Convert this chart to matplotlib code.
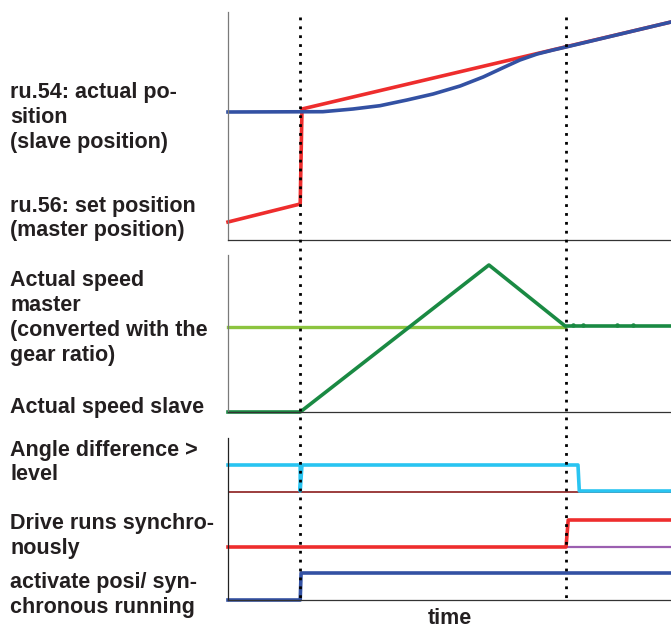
import matplotlib
matplotlib.use('Agg')
import matplotlib.pyplot as plt
import matplotlib.transforms as mtrans
from matplotlib.lines import Line2D

plt.rcParams['font.family'] = ['Liberation Sans', 'DejaVu Sans']

# time axis (arbitrary units, 0..100)
t_start = 16.3      # activate posi / synchronous running
t_sync = 76.3       # drive runs synchronously
t_end = 100.0

# panel 1: positions
set_pos_t = [0, 16.3, 16.7, 100]
set_pos_y = [18, 36, 131, 218]
act_pos_t = [0, 21.4, 28.2, 34.3, 40.4, 46.3, 52.4, 57.6, 62.1, 65.9, 69.8, 73.4, 76.3, 100]
act_pos_y = [128, 128.3, 131, 134.3, 140, 146, 154, 163, 172.3, 180, 186, 190, 193, 218]

# panel 2: speeds
speed_master_t = [0, 76.1]
speed_master_y = [85, 85]
speed_slave_t = [0, 16.3, 58.9, 76.1, 100]
speed_slave_y = [0, 0, 147, 86, 86]
ripple_t = [77.9, 80.1, 87.8, 91.4]
ripple_y = [87.5, 87.5, 87.5, 87.5]

# panel 3: digital signals
angle_t = [0, 16.3, 16.3, 16.7, 79.0, 79.3, 100]
angle_y = [135, 135, 109, 135, 135, 109, 109]
angle_base = 108
sync_t = [0, 76.3, 76.8, 100]
sync_y = [53, 53, 80, 80]
sync_base = 53
activate_t = [0, 16.3, 16.5, 100]
activate_y = [0, 0, 27, 27]

labels = [
    ("ru.54: actual po-\nsition\n(slave position)", 117.5),
    ("ru.56: set position\n(master position)", 218.5),
    ("Actual speed\nmaster\n(converted with the\ngear ratio)", 318),
    ("Actual speed slave", 407.5),
    ("Angle difference >\nlevel", 462.5),
    ("Drive runs synchro-\nnously", 536),
    ("activate posi/ syn-\nchronous running", 595),
]

W, H = 671, 628
fig = plt.figure(figsize=(W / 100, H / 100), dpi=100)

def panel(top, bottom):
    return fig.add_axes([228 / W, (H - bottom) / H, 443 / W, (bottom - top) / H])

ax1 = panel(12, 240)
ax2 = panel(255, 412)
ax3 = panel(438, 600)

for ax, ytop, spc in [(ax1, 228, '#7a7a7a'), (ax2, 157, '#7a7a7a'), (ax3, 162, '#222222')]:
    ax.set_xlim(0, t_end)
    ax.set_ylim(0, ytop)
    ax.set_xticks([])
    ax.set_yticks([])
    for s in ['top', 'right']:
        ax.spines[s].set_visible(False)
    ax.spines['left'].set_color(spc)
    ax.spines['bottom'].set_color('#333333')
    ax.spines['left'].set_linewidth(0.9)
    ax.spines['bottom'].set_linewidth(0.9)
    ax.patch.set_alpha(0)

ax1.plot(set_pos_t, set_pos_y, color='#ee2d2d', lw=2.6, solid_joinstyle='miter', clip_on=False)
ax1.plot(act_pos_t, act_pos_y, color='#3351a3', lw=2.6, clip_on=False)

ax2.plot(speed_master_t, speed_master_y, color='#8cc43f', lw=2.4, clip_on=False)
ax2.plot(speed_slave_t, speed_slave_y, color='#1a8a43', lw=2.6, clip_on=False)
ax2.plot(ripple_t, ripple_y, 'o', color='#1a8a43', ms=2.2, clip_on=False)

ax3.axhline(angle_base, color='#8b1c1c', lw=1.2)
ax3.plot([t_sync, t_end], [sync_base, sync_base], color='#9b5fb0', lw=1.6)
ax3.plot(angle_t, angle_y, color='#29c4f1', lw=2.6, clip_on=False)
ax3.plot(sync_t, sync_y, color='#ee2d2d', lw=2.6, clip_on=False)
ax3.plot(activate_t, activate_y, color='#3351a3', lw=2.6, clip_on=False)

# dotted event markers spanning all panels
tr = mtrans.blended_transform_factory(ax3.transData, fig.transFigure)
for t in [t_start, t_sync]:
    fig.add_artist(Line2D([t, t], [1 - 17 / H, 1 - 600 / H], transform=tr,
                          color='black', lw=2, linestyle=(0, (1, 2.2))))

for txt, yc in labels:
    fig.text(10 / W, 1 - yc / H, txt, ha='left', va='center', fontsize=15.5,
             fontweight='bold', color='#231f20', linespacing=1.24)

fig.text(450 / W, 1 - 619 / H, 'time', ha='center', va='center', fontsize=15.5,
         fontweight='bold', color='#231f20')

fig.savefig('out.png', dpi=100)
